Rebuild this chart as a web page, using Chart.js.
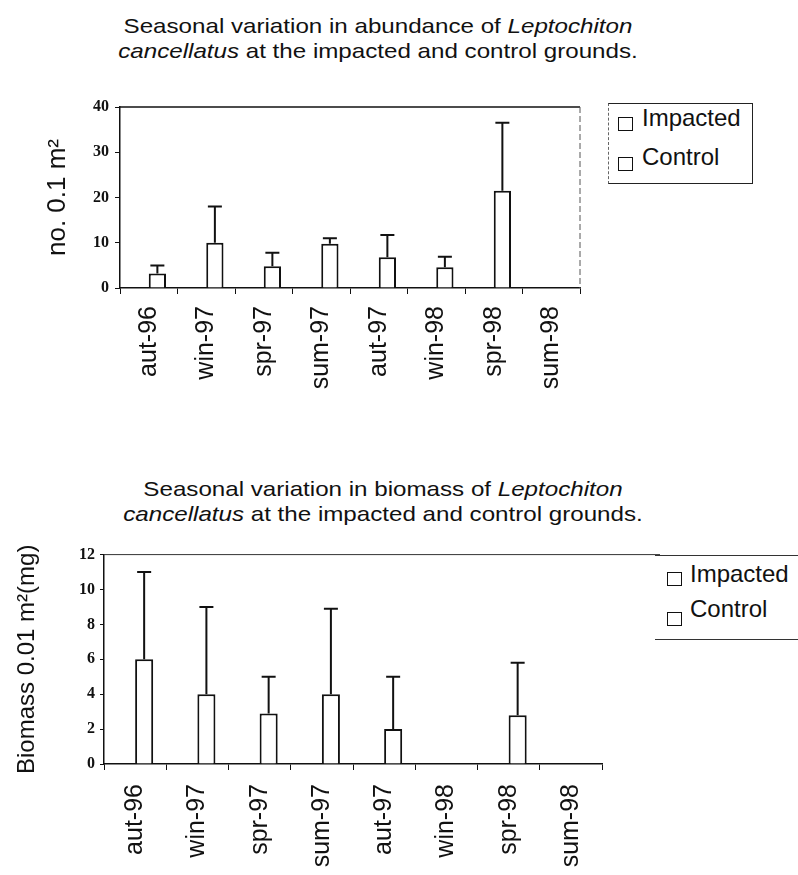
<!DOCTYPE html>
<html>
<head>
<meta charset="utf-8">
<script src="https://cdn.jsdelivr.net/npm/chart.js@4.4.1/dist/chart.umd.min.js"></script>
<style>
  body { margin: 0; background: #fff; }
  #page { position: relative; width: 798px; height: 875px; overflow: hidden; font-family: "Liberation Sans", Arial, sans-serif; color: #111; }
  .title { position: absolute; width: 700px; text-align: center; font-size: 21px; line-height: 25px; white-space: nowrap; transform: scaleX(1.15); transform-origin: center; }
  .sw { position: absolute; width: 13px; height: 12px; border: 1.5px solid #111; background: #fff; }
  .lt { position: absolute; font-size: 24px; line-height: 24px; white-space: nowrap; }
  canvas { position: absolute; left: 0; }
</style>
</head>
<body>
<div id="page">
  <div class="title" style="left:28px; top:13px;">Seasonal variation in abundance of <i>Leptochiton</i></div>
  <div class="title" style="left:28px; top:38px;"><i>cancellatus</i> at the impacted and control grounds.</div>

  <div style="position:absolute; left:608px; top:103px; width:143px; height:79px; border:1px solid #222; border-left:1px dashed #666;"></div>
  <div class="sw" style="left:618px; top:117px;"></div>
  <div class="lt" style="left:642px; top:106px;">Impacted</div>
  <div class="sw" style="left:618px; top:157px;"></div>
  <div class="lt" style="left:642px; top:145px;">Control</div>

  <canvas id="abund" width="600" height="330" style="top:90px;"></canvas>

  <div class="title" style="left:33px; top:476px;">Seasonal variation in biomass of <i>Leptochiton</i></div>
  <div class="title" style="left:33px; top:501px;"><i>cancellatus</i> at the impacted and control grounds.</div>

  <div style="position:absolute; left:655px; top:555px; width:143px; height:83px; border-top:1px solid #333; border-bottom:1px solid #333;"></div>
  <div class="sw" style="left:667px; top:572px;"></div>
  <div class="lt" style="left:690px; top:562px;">Impacted</div>
  <div class="sw" style="left:667px; top:612px;"></div>
  <div class="lt" style="left:690px; top:597px;">Control</div>

  <canvas id="biomass" width="660" height="335" style="top:540px;"></canvas>
</div>

<script>
const seasons = ['aut-96', 'win-97', 'spr-97', 'sum-97', 'aut-97', 'win-98', 'spr-98', 'sum-98'];

// abundance, no. per 0.1 m2
const abundImpacted = [0, 0, 0, 0, 0, 0, 0, 0];
const abundControl = [3.2, 10, 4.8, 9.8, 6.8, 4.6, 21.5, 0];
const abundControlErr = [1.8, 8, 3, 1.2, 4.9, 2.3, 15, 0];
const abundTicks = [0, 10, 20, 30, 40];

// biomass, mg per 0.01 m2
const bioImpacted = [0, 0, 0, 0, 0, 0, 0, 0];
const bioControl = [6, 4, 2.9, 4, 2, 0, 2.8, 0];
const bioControlErr = [5, 5, 2.1, 4.9, 3, 0, 3, 0];
const bioTicks = [0, 2, 4, 6, 8, 10, 12];

// upward-only error bars on top of the bars
const errorBars = {
    id: 'errorBars',
    afterDatasetsDraw(chart) {
        const ctx = chart.ctx;
        const y = chart.scales.y;
        chart.data.datasets.forEach((ds, di) => {
            if (!ds.errors) return;
            const meta = chart.getDatasetMeta(di);
            meta.data.forEach((bar, i) => {
                const e = ds.errors[i];
                if (!e) return;
                const top = y.getPixelForValue(ds.data[i] + e);
                ctx.save();
                ctx.strokeStyle = '#111';
                ctx.lineWidth = 2;
                ctx.beginPath();
                ctx.moveTo(bar.x, bar.y);
                ctx.lineTo(bar.x, top);
                ctx.moveTo(bar.x - 7, top);
                ctx.lineTo(bar.x + 7, top);
                ctx.stroke();
                ctx.restore();
            });
        });
    }
};

// top border / right border of the plot box
const frame = {
    id: 'frame',
    beforeDatasetsDraw(chart, args, opts) {
        const {left, right, top, bottom} = chart.chartArea;
        const ctx = chart.ctx;
        ctx.save();
        ctx.strokeStyle = opts.color || '#222';
        ctx.lineWidth = opts.width || 1.5;
        ctx.beginPath();
        ctx.moveTo(left, top);
        ctx.lineTo(opts.topTo === 'edge' ? chart.width : right, top);
        ctx.stroke();
        if (opts.rightSide) {
            ctx.setLineDash([6, 3]);
            ctx.lineWidth = 1;
            ctx.strokeStyle = '#555';
            ctx.beginPath();
            ctx.moveTo(right, top);
            ctx.lineTo(right, bottom);
            ctx.stroke();
        }
        ctx.restore();
    }
};

function makeChart(id, impacted, control, controlErr, ticks, yTitle, cfg) {
    const yMax = ticks[ticks.length - 1];
    return new Chart(document.getElementById(id), {
        type: 'bar',
        data: {
            labels: seasons,
            datasets: [
                { label: 'Impacted', data: impacted, backgroundColor: '#fff', borderColor: '#111', borderWidth: 2 },
                { label: 'Control', data: control, errors: controlErr, backgroundColor: '#fff', borderColor: '#111', borderWidth: 2 }
            ]
        },
        options: {
            responsive: false,
            animation: false,
            devicePixelRatio: 1,
            categoryPercentage: cfg.catPct,
            barPercentage: 1,
            layout: { padding: cfg.padding },
            plugins: {
                legend: { display: false },
                tooltip: { enabled: false },
                frame: cfg.frame
            },
            scales: {
                x: {
                    grid: { drawOnChartArea: false, drawTicks: true, tickLength: cfg.xTickLen, color: '#111', offset: true },
                    border: { display: true, color: '#111', width: 1.5 },
                    ticks: { color: '#111', minRotation: 90, maxRotation: 90, padding: cfg.xPad, autoSkip: false,
                             font: { family: 'Liberation Sans', size: 25 } },
                    afterFit: s => { s.height = cfg.xHeight; }
                },
                y: {
                    min: 0,
                    max: yMax,
                    afterBuildTicks: s => { s.ticks = ticks.map(v => ({ value: v })); },
                    grid: { drawOnChartArea: false, drawTicks: true, tickLength: cfg.yTickLen, color: '#111' },
                    border: { display: true, color: '#111', width: 1.5 },
                    ticks: { color: '#111', padding: cfg.yPad,
                             font: { family: 'Liberation Serif', size: 16, weight: 'bold' } },
                    title: { display: true, text: yTitle, color: '#111',
                             font: { family: 'Liberation Sans', size: cfg.yTitleSize, lineHeight: 1 },
                             padding: { top: cfg.yTitlePad, bottom: 0 } },
                    afterFit: s => { s.width = cfg.yWidth; }
                }
            }
        },
        plugins: [frame, errorBars]
    });
}

makeChart('abund', abundImpacted, abundControl, abundControlErr, abundTicks, 'no. 0.1 m\u00b2', {
    catPct: 0.6,
    padding: { top: 17, right: 20, left: 0, bottom: 0 },
    xHeight: 132, yWidth: 120,
    xTickLen: 6, xPad: 12, yTickLen: 5, yPad: 6,
    yTitleSize: 26, yTitlePad: 45,
    frame: { rightSide: true, width: 1.5, color: '#111' }
});

makeChart('biomass', bioImpacted, bioControl, bioControlErr, bioTicks, 'Biomass 0.01 m\u00b2(mg)', {
    catPct: 0.58,
    padding: { top: 13, right: 58, left: 0, bottom: 0 },
    xHeight: 111, yWidth: 104,
    xTickLen: 6, xPad: 14, yTickLen: 4, yPad: 5,
    yTitleSize: 24, yTitlePad: 15,
    frame: { rightSide: false, width: 1, color: '#333', topTo: 'edge' }
});
</script>
</body>
</html>
